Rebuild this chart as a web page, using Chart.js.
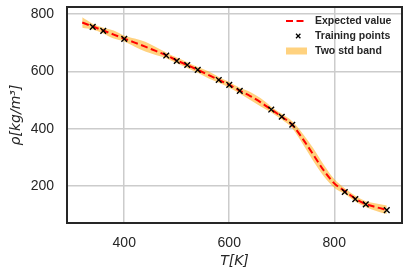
<!DOCTYPE html>
<html>
<head>
<meta charset="utf-8">
<script src="https://cdn.jsdelivr.net/npm/chart.js@4"></script>
<style>
  body { margin: 0; background: #fff; }
</style>
</head>
<body>
<canvas id="rho-chart" width="408" height="278"></canvas>
<script>
// curve grid
const curveT = [320, 340, 360, 380, 400, 420, 440, 460, 480, 500, 520, 540, 560, 580, 600,
  620, 640, 660, 680, 700, 720, 740, 760, 780, 800, 820, 840, 860, 880, 900];
const meanRho = [770, 756, 742, 728, 714, 700, 686, 671, 656, 638, 622, 605, 588, 570, 553,
  533, 514, 492, 467, 442, 414, 365, 310, 255, 210, 183, 157, 138, 127, 118];
const upperRho = [788, 766, 752, 742, 724, 714, 703, 685, 666, 648, 632, 615, 600, 580, 563,
  543, 528, 506, 477, 452, 426, 383, 332, 275, 225, 193, 167, 148, 140, 133];
const lowerRho = [752, 746, 732, 714, 704, 686, 669, 657, 646, 628, 612, 595, 576, 560, 543,
  523, 500, 478, 457, 432, 402, 347, 288, 235, 195, 173, 147, 128, 114, 103];

const trainT = [340, 360, 400, 480, 500, 520, 540, 580, 600, 620, 680, 700, 720, 820, 840, 860, 900];
const trainRho = [755, 741, 713, 655, 636, 622, 605, 570, 553, 532, 467, 442, 414, 180, 155, 137, 117];

const xTicks = [400, 600, 800];
const yTicks = [200, 400, 600, 800];
const legendLabels = ["Expected value", "Training points", "Two std band"];

const ink = "#262626";
const bandColor = "rgba(255, 165, 0, 0.5)";
const tickFont = { family: "'Liberation Sans', Arial, sans-serif", size: 14 };
const mathFont = { family: "'DejaVu Sans', sans-serif", size: 14, style: "italic" };

function pairs(xs, ys) {
  return xs.map((x, i) => ({ x: x, y: ys[i] }));
}

// keep the plot box where it is in the picture
function noPadding(s) {
  s.paddingTop = 0;
  s.paddingBottom = 0;
  s.paddingLeft = 0;
  s.paddingRight = 0;
}

// box round the plot, all four sides
const frame = {
  id: "frame",
  afterDraw(chart) {
    const { ctx, chartArea: a } = chart;
    ctx.save();
    ctx.strokeStyle = ink;
    ctx.lineWidth = 2;
    ctx.strokeRect(a.left, a.top, a.right - a.left, a.bottom - a.top);
    ctx.restore();
  },
};

// matplotlib style legend in the upper right corner
const legendBox = {
  id: "legendBox",
  afterDraw(chart) {
    const ctx = chart.ctx;
    const x0 = 286;
    const tx = 315;
    const rows = [21, 36, 51];
    ctx.save();

    ctx.strokeStyle = "#ff0000";
    ctx.lineWidth = 2;
    ctx.setLineDash([7, 3.5]);
    ctx.beginPath();
    ctx.moveTo(x0, rows[0]);
    ctx.lineTo(x0 + 20, rows[0]);
    ctx.stroke();
    ctx.setLineDash([]);

    ctx.strokeStyle = "#000";
    ctx.lineWidth = 1.3;
    ctx.beginPath();
    ctx.moveTo(296, rows[1] - 2.2);
    ctx.lineTo(300.4, rows[1] + 2.2);
    ctx.moveTo(300.4, rows[1] - 2.2);
    ctx.lineTo(296, rows[1] + 2.2);
    ctx.stroke();

    ctx.fillStyle = bandColor;
    ctx.fillRect(x0, rows[2] - 3.5, 21, 7);

    ctx.fillStyle = ink;
    ctx.font = "bold 10.5px 'Liberation Sans', Arial, sans-serif";
    ctx.textBaseline = "middle";
    legendLabels.forEach((t, i) => ctx.fillText(t, tx, rows[i]));
    ctx.restore();
  },
};

const ctx = document.getElementById("rho-chart").getContext("2d");

new Chart(ctx, {
  type: "line",
  data: {
    datasets: [
      {
        type: "scatter",
        label: legendLabels[1],
        data: pairs(trainT, trainRho),
        pointStyle: "crossRot",
        pointRadius: 4,
        borderColor: "#000",
        backgroundColor: "#000",
        pointBorderWidth: 1.4,
        order: 0,
      },
      {
        label: legendLabels[0],
        data: pairs(curveT, meanRho),
        borderColor: "#ff0000",
        borderWidth: 2,
        borderDash: [7, 3.5],
        pointRadius: 0,
        cubicInterpolationMode: "monotone",
        fill: false,
        order: 1,
      },
      {
        label: legendLabels[2],
        data: pairs(curveT, upperRho),
        borderWidth: 0,
        borderColor: "rgba(0,0,0,0)",
        backgroundColor: bandColor,
        pointRadius: 0,
        cubicInterpolationMode: "monotone",
        fill: "+1",
        order: 2,
      },
      {
        label: "lower",
        data: pairs(curveT, lowerRho),
        borderWidth: 0,
        borderColor: "rgba(0,0,0,0)",
        pointRadius: 0,
        cubicInterpolationMode: "monotone",
        fill: false,
        order: 3,
      },
    ],
  },
  options: {
    responsive: false,
    animation: false,
    layout: { padding: { left: 0, right: 6, top: 7, bottom: 0 } },
    plugins: {
      legend: { display: false },
      tooltip: { enabled: false },
    },
    scales: {
      x: {
        type: "linear",
        min: 291,
        max: 929,
        afterBuildTicks: (s) => { s.ticks = xTicks.map((v) => ({ value: v })); },
        afterFit: (s) => { s.height = 55; noPadding(s); },
        grid: { color: "#cccccc", lineWidth: 1.5, drawTicks: false },
        border: { display: false },
        ticks: { color: ink, font: tickFont, padding: 12 },
        title: { display: true, text: "T[K]", color: ink, font: mathFont, padding: { top: 0, bottom: 8 } },
      },
      y: {
        type: "linear",
        min: 72,
        max: 824,
        afterBuildTicks: (s) => { s.ticks = yTicks.map((v) => ({ value: v })); },
        afterFit: (s) => { s.width = 67; noPadding(s); },
        grid: { color: "#cccccc", lineWidth: 1.5, drawTicks: false },
        border: { display: false },
        ticks: { color: ink, font: tickFont, padding: 13 },
        title: { display: true, text: "ρ[kg/m³]", color: ink, font: mathFont, padding: { top: 8, bottom: 0 } },
      },
    },
  },
  plugins: [frame, legendBox],
});
</script>
</body>
</html>
